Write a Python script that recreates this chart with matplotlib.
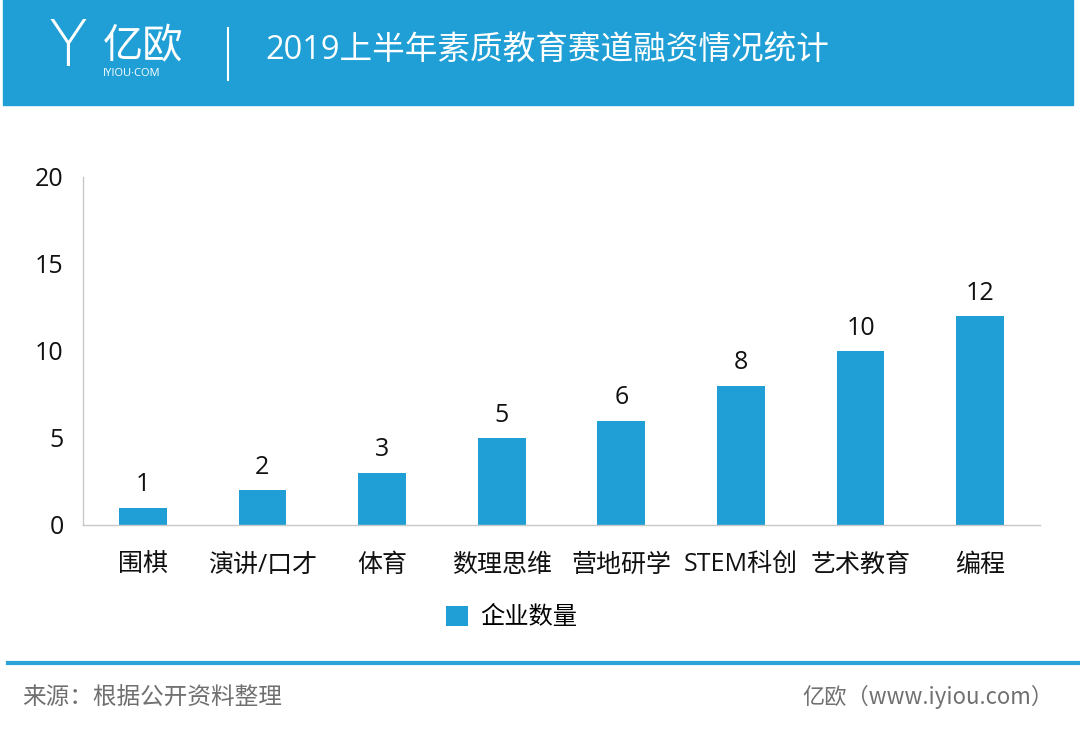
import matplotlib
matplotlib.use("Agg")
import matplotlib.pyplot as plt
from matplotlib.patches import Rectangle

plt.rcParams['font.family'] = ['Open Sans', 'Noto Sans CJK SC', 'DejaVu Sans']

categories = ["围棋", "演讲/口才", "体育", "数理思维", "营地研学", "STEM科创", "艺术教育", "编程"]
counts = [1, 2, 3, 5, 6, 8, 10, 12]
series_name = "企业数量"
yticks = [0, 5, 10, 15, 20]

BLUE = "#1f9fd5"
W, H = 1080, 734

fig = plt.figure(figsize=(W / 100, H / 100), dpi=100)

# header band
fig.patches.append(Rectangle((3 / W, 1 - 105 / H), 1070 / W, 105 / H,
                             transform=fig.transFigure, color=BLUE, zorder=0))
fig.text(103 / W, 1 - 47 / H, "亿欧", color="white", fontsize=29,
         family=['Noto Sans CJK SC'], va="center", ha="left")
fig.text(103 / W, 1 - 74 / H, "IYIOU·COM", color="white", fontsize=8,
         va="center", ha="left")
fig.text(68 / W, 1 - 48 / H, "Y", color="white", fontsize=46, fontweight="light",
         va="center", ha="center", family=['DejaVu Sans'])
fig.lines.append(plt.Line2D([228 / W, 228 / W], [1 - 28 / H, 1 - 80 / H],
                            transform=fig.transFigure, color="white", lw=1.5))
fig.text(265 / W, 1 - 50 / H, "2019上半年素质教育赛道融资情况统计", color="white",
         fontsize=23.5, va="center", ha="left")

# chart
ax = fig.add_axes([83 / W, 1 - 525 / H, 957 / W, 348 / H])
x = range(len(categories))
ax.bar(x, counts, width=0.4, color=BLUE, label=series_name)
for xi, v in zip(x, counts):
    ax.text(xi, v + 0.6, str(v), ha="center", va="bottom", fontsize=18, color="#111111")
ax.set_xlim(-0.5, len(categories) - 0.5)
ax.set_ylim(0, 20)
ax.set_yticks(yticks)
ax.set_xticks(list(x))
ax.set_xticklabels(categories, fontsize=18)
ax.tick_params(axis="both", length=0, colors="#111111")
ax.tick_params(axis="y", labelsize=18, pad=14)
ax.tick_params(axis="x", pad=20)
for s in ["top", "right"]:
    ax.spines[s].set_visible(False)
for s in ["left", "bottom"]:
    ax.spines[s].set_color("#c8c8c8")
    ax.spines[s].set_linewidth(1)

leg = ax.legend(loc="center", frameon=False, fontsize=17.5,
                handlelength=0.9, handleheight=0.9, handletextpad=0.5)
leg.set_bbox_to_anchor((512 / W, 1 - 618 / H), transform=fig.transFigure)

# footer
fig.lines.append(plt.Line2D([8 / W, 1078 / W], [1 - 663 / H, 1 - 663 / H],
                            transform=fig.transFigure, color="#2aa3d8", lw=3))
fig.text(22 / W, 1 - 697 / H, "来源：根据公开资料整理", color="#707070", fontsize=17,
         va="center", ha="left", family=['Noto Sans CJK SC', 'DejaVu Sans'])
fig.text(1053 / W, 1 - 697 / H, "亿欧（www.iyiou.com）", color="#707070", fontsize=16,
         va="center", ha="right", family=['Noto Sans CJK SC', 'DejaVu Sans'])

fig.savefig("out.png", dpi=100)
